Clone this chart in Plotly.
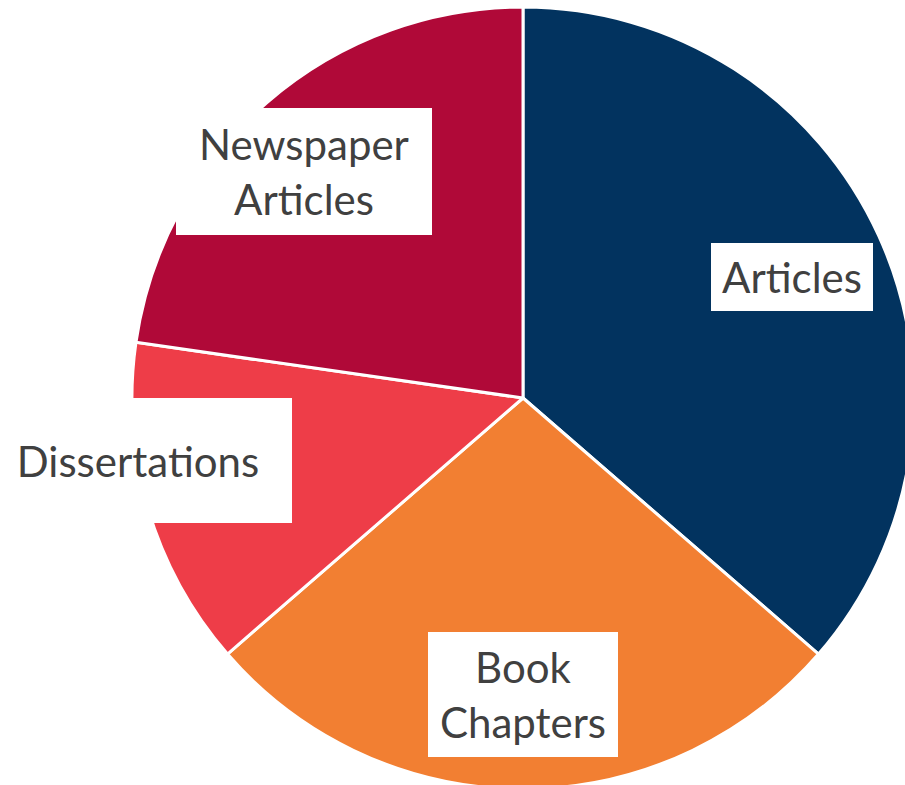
import math
import plotly.graph_objects as go

# ---- data ----
categories = ["Articles", "Book Chapters", "Dissertations", "Newspaper Articles"]
label_text = ["Articles", "Book<br>Chapters", "Dissertations", "Newspaper<br>Articles"]
counts = [8, 6, 3, 5]
colors = ["#02335F", "#F27F32", "#EE3D48", "#B00938"]

# ---- layout geometry (px) ----
W, H = 1046, 789
TOP = 7
R = (H - TOP) / 2.0
CX, CY = W / 2.0, TOP + R
PAD = 9
# label placement: radius fraction, pixel nudges and label box sizes (Excel "best fit" style)
label_r = 0.75
nudges = {"Articles": (2, 1), "Book Chapters": (0, 3),
          "Dissertations": (-104, -20), "Newspaper Articles": (-27, -5)}
box_sizes = {"Articles": (162, 68), "Book Chapters": (190, 125),
             "Dissertations": (308, 125), "Newspaper Articles": (256, 127)}

fig = go.Figure(go.Pie(
    labels=categories,
    values=counts,
    sort=False,
    direction="clockwise",
    rotation=0,
    marker=dict(colors=colors, line=dict(color="white", width=3)),
    textinfo="none",
    hoverinfo="label+value+percent",
    showlegend=False,
    domain=dict(x=[0, 1], y=[0, 1]),
))

total = float(sum(counts))
cum = 0.0
for cat, txt, v in zip(categories, label_text, counts):
    mid = (cum + v / 2.0) / total * 2 * math.pi
    cum += v
    px = CX + label_r * R * math.sin(mid) + nudges[cat][0]
    py = CY - label_r * R * math.cos(mid) + nudges[cat][1]
    bw, bh = box_sizes[cat]
    fig.add_annotation(
        x=px / W, y=1 - (py - TOP) / (H - TOP),
        xref="paper", yref="paper",
        text=txt, showarrow=False,
        font=dict(family="Lato, Noto Sans, sans-serif", size=42, color="#404040"),
        bgcolor="white", borderpad=PAD, borderwidth=0,
        width=bw - 2 * PAD, height=bh - 2 * PAD,
        xanchor="center", yanchor="middle",
    )

fig.update_layout(
    width=W, height=H,
    margin=dict(l=0, r=0, t=TOP, b=0),
    paper_bgcolor="white",
    plot_bgcolor="white",
)

fig.write_html("out.html",
               post_script="document.body.style.margin='0';document.body.style.overflow='hidden';")
